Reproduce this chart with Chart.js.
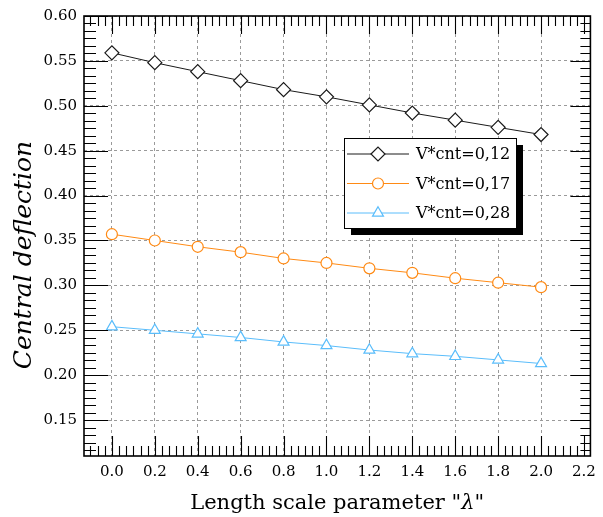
<!DOCTYPE html>
<html>
<head>
<meta charset="utf-8">
<script src="https://cdn.jsdelivr.net/npm/chart.js@4.4.1/dist/chart.umd.min.js"></script>
<style>
  html, body { margin: 0; padding: 0; background: #fff; }
  #chartMain { display: block; }
</style>
</head>
<body>
<canvas id="chartMain" width="603" height="517"></canvas>
<script>
// data
const lambdaVals = [0.0, 0.2, 0.4, 0.6, 0.8, 1.0, 1.2, 1.4, 1.6, 1.8, 2.0];
const defl012 = [0.559, 0.548, 0.538, 0.528, 0.518, 0.510, 0.501, 0.492, 0.484, 0.476, 0.468];
const defl017 = [0.357, 0.350, 0.343, 0.337, 0.330, 0.325, 0.319, 0.314, 0.308, 0.303, 0.298];
const defl028 = [0.254, 0.250, 0.246, 0.242, 0.237, 0.233, 0.228, 0.224, 0.221, 0.217, 0.213];
const seriesLabels = ['V*cnt=0,12', 'V*cnt=0,17', 'V*cnt=0,28'];
const xTicks = [0.0, 0.2, 0.4, 0.6, 0.8, 1.0, 1.2, 1.4, 1.6, 1.8, 2.0, 2.2];
const yTicks = [0.15, 0.20, 0.25, 0.30, 0.35, 0.40, 0.45, 0.50, 0.55, 0.60];
const xTitle = ['Length scale parameter "', 'λ', '"'];
const yTitle = 'Central deflection';

const SERIF = '"DejaVu Serif", "Liberation Serif", serif';
const pts = ys => lambdaVals.map((x, i) => ({ x: x, y: ys[i] }));

function mkSet(label, ys, color, style, r) {
    return {
        label: label, data: pts(ys),
        borderColor: color, borderWidth: 1,
        pointStyle: style, pointRadius: r, pointHoverRadius: r,
        pointBorderColor: color, pointBackgroundColor: '#fff', pointBorderWidth: 1.2,
        tension: 0
    };
}

function drawMarker(ctx, style, x, y, r) {
    ctx.beginPath();
    if (style === 'rectRot') {
        ctx.moveTo(x - r, y); ctx.lineTo(x, y - r); ctx.lineTo(x + r, y); ctx.lineTo(x, y + r);
        ctx.closePath();
    } else if (style === 'triangle') {
        for (let k = 0; k < 3; k++) {
            const a = k * 2 * Math.PI / 3;
            const px = x + Math.sin(a) * r, py = y - Math.cos(a) * r;
            k ? ctx.lineTo(px, py) : ctx.moveTo(px, py);
        }
        ctx.closePath();
    } else {
        ctx.arc(x, y, r, 0, Math.PI * 2);
    }
    ctx.fill(); ctx.stroke();
}

// frame, inward ticks, axis titles, legend
const decoPlugin = {
    id: 'deco',
    afterDatasetsDraw(chart) {
        const ctx = chart.ctx, a = chart.chartArea;
        const sx = chart.scales.x, sy = chart.scales.y;
        ctx.save();
        ctx.strokeStyle = '#000';

        // minor ticks: 6 subdivisions between majors
        const minorOf = (ticks, min, max) => {
            const step = (ticks[1] - ticks[0]) / 6, out = [];
            for (let v = ticks[0] - step; v >= min - 1e-9; v -= step) out.push(v);
            for (let i = 0; i < ticks.length; i++)
                for (let k = 1; k < 6; k++) {
                    const v = ticks[i] + k * step;
                    if (v <= max + 1e-9) out.push(v);
                }
            return out;
        };
        const xMinor = minorOf(xTicks, sx.min, sx.max);
        const yMinor = minorOf(yTicks, sy.min, sy.max);

        ctx.lineWidth = 1.1;
        ctx.beginPath();
        xTicks.forEach(v => {
            const px = Math.round(sx.getPixelForValue(v)) + 0.5;
            ctx.moveTo(px, a.bottom); ctx.lineTo(px, a.bottom - 20);
            ctx.moveTo(px, a.top); ctx.lineTo(px, a.top + 18);
        });
        xMinor.forEach(v => {
            const px = Math.round(sx.getPixelForValue(v)) + 0.5;
            ctx.moveTo(px, a.bottom); ctx.lineTo(px, a.bottom - 10);
            ctx.moveTo(px, a.top); ctx.lineTo(px, a.top + 10);
        });
        yTicks.forEach(v => {
            const py = Math.round(sy.getPixelForValue(v)) + 0.5;
            ctx.moveTo(a.left, py); ctx.lineTo(a.left + 24, py);
            ctx.moveTo(a.right, py); ctx.lineTo(a.right - 20, py);
        });
        yMinor.forEach(v => {
            const py = Math.round(sy.getPixelForValue(v)) + 0.5;
            ctx.moveTo(a.left, py); ctx.lineTo(a.left + 12, py);
            ctx.moveTo(a.right, py); ctx.lineTo(a.right - 10, py);
        });
        ctx.stroke();

        ctx.lineWidth = 1.6;
        ctx.strokeRect(a.left, a.top, a.right - a.left, a.bottom - a.top);

        // axis titles
        ctx.fillStyle = '#000';
        ctx.textBaseline = 'alphabetic';
        const xf = '21px ' + SERIF, xfi = 'italic 21px ' + SERIF;
        ctx.font = xf;
        const wA = ctx.measureText(xTitle[0]).width, wC = ctx.measureText(xTitle[2]).width;
        ctx.font = xfi;
        const wB = ctx.measureText(xTitle[1]).width;
        let tx = (a.left + a.right) / 2 - (wA + wB + wC) / 2;
        const ty = 509;
        ctx.textAlign = 'left';
        ctx.font = xf; ctx.fillText(xTitle[0], tx, ty); tx += wA;
        ctx.font = xfi; ctx.fillText(xTitle[1], tx, ty); tx += wB;
        ctx.font = xf; ctx.fillText(xTitle[2], tx, ty);

        ctx.save();
        ctx.translate(31, 255);
        ctx.rotate(-Math.PI / 2);
        ctx.textAlign = 'center';
        ctx.font = 'italic 25px ' + SERIF;
        ctx.fillText(yTitle, 0, 0);
        ctx.restore();

        // legend box with drop shadow
        const L = { x: 344, y: 138, w: 172, h: 90 };
        ctx.fillStyle = '#000';
        ctx.fillRect(L.x + 7, L.y + 7, L.w, L.h);
        ctx.fillStyle = '#fff';
        ctx.fillRect(L.x, L.y, L.w, L.h);
        ctx.lineWidth = 1;
        ctx.strokeStyle = '#000';
        ctx.strokeRect(L.x + 0.5, L.y + 0.5, L.w, L.h);
        chart.data.datasets.forEach((ds, i) => {
            const yy = L.y + 16 + i * 29.5;
            ctx.strokeStyle = ds.borderColor;
            ctx.lineWidth = 1;
            ctx.beginPath();
            ctx.moveTo(L.x + 3, yy); ctx.lineTo(L.x + 65, yy);
            ctx.stroke();
            ctx.fillStyle = '#fff';
            ctx.lineWidth = 1.2;
            drawMarker(ctx, ds.pointStyle, L.x + 34, yy, ds.pointRadius);
            ctx.fillStyle = '#000';
            ctx.font = '16px ' + SERIF;
            ctx.textAlign = 'left';
            ctx.textBaseline = 'middle';
            ctx.fillText(ds.label, L.x + 72, yy + 1);
        });
        ctx.restore();
    }
};

const chart = new Chart(document.getElementById('chartMain'), {
    type: 'line',
    data: {
        datasets: [
            mkSet(seriesLabels[0], defl012, '#1a1a1a', 'rectRot', 7),
            mkSet(seriesLabels[1], defl017, '#ff8a14', 'circle', 5.5),
            mkSet(seriesLabels[2], defl028, '#5abdfb', 'triangle', 6.3)
        ]
    },
    options: {
        responsive: false,
        animation: false,
        devicePixelRatio: 1,
        layout: { padding: { top: 15, right: 6, left: 0, bottom: 0 } },
        plugins: { legend: { display: false }, tooltip: { enabled: false } },
        scales: {
            x: {
                type: 'linear', min: -0.13, max: 2.23,
                afterBuildTicks: s => { s.ticks = xTicks.map(v => ({ value: v })); },
                afterFit: s => { s.height = 61; },
                ticks: { color: '#000', font: { family: SERIF, size: 15 }, padding: 7,
                         maxRotation: 0, autoSkip: false, callback: v => v.toFixed(1) },
                grid: { drawTicks: false, lineWidth: 1,
                        color: c => (c.tick && c.tick.value > 2.1) ? 'rgba(0,0,0,0)' : '#9a9a9a' },
                border: { display: false, dash: [3, 3] }
            },
            y: {
                type: 'linear', min: 0.11, max: 0.60,
                afterBuildTicks: s => { s.ticks = yTicks.map(v => ({ value: v })); },
                afterFit: s => { s.width = 84; },
                ticks: { color: '#000', font: { family: SERIF, size: 15 }, padding: 7,
                         autoSkip: false, callback: v => v.toFixed(2) },
                grid: { drawTicks: false, lineWidth: 1, color: '#9a9a9a' },
                border: { display: false, dash: [3, 3] }
            }
        }
    },
    plugins: [decoPlugin]
});
</script>
</body>
</html>
